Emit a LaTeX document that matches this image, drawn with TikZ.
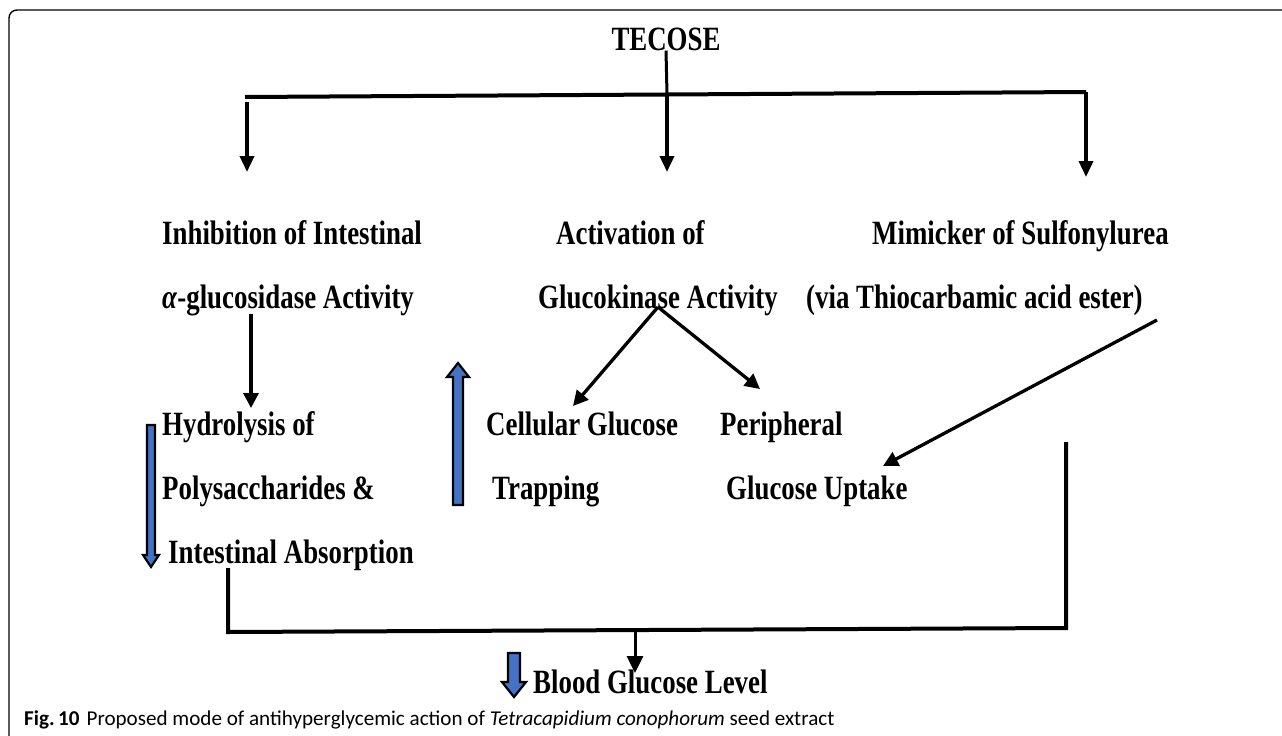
\documentclass[tikz,border=0pt]{standalone}
\usepackage{fontspec}
\setmainfont{Liberation Serif}[FakeStretch=0.79]
\newfontfamily\capfont{Carlito}
\usepackage{tikz}
\usetikzlibrary{positioning,arrows.meta}
\definecolor{arrblue}{RGB}{68,114,196}
\tikzset{
  lbl/.style={anchor=base west, inner sep=0pt, align=left, font=\fontsize{34}{64}\selectfont\bfseries},
  arr/.style={-{Triangle[length=16pt, width=14pt]}, line width=3.5pt},
  darr/.style={-{Triangle[length=15pt, width=15pt]}, line width=3.3pt},
  bar/.style={line width=4pt, line join=miter},
  blk/.style={draw=black, line width=2.2pt, fill=arrblue, line join=miter},
  frame/.style={line width=1.4pt, rounded corners=8pt},
}
\begin{document}
\begin{tikzpicture}[x=1pt, y=-1pt]
  \useasboundingbox (0,0) rectangle (1282,736);
  \draw[frame] (9,736) -- (9,10) -- (1282,10);

  % texts (base = last line)
  \node[lbl, anchor=base] (tec) at (666,50) {TECOSE};
  \node[lbl] (inh) at (162,308) {Inhibition of Intestinal\\ \textit{α}-glucosidase Activity};
  \node[lbl] (act) at (538,308) {\hspace{18pt}Activation of\\ Glucokinase Activity};
  \node[lbl] (mim) at (806,308) {\hspace{66pt}Mimicker of Sulfonylurea\\ (via Thiocarbamic acid ester)};
  \node[lbl] (hyd) at (162,563) {Hydrolysis of\\ Polysaccharides \&\\ \hspace{6pt}Intestinal Absorption};
  \node[lbl] (cel) at (486,499) {Cellular Glucose\\ \hspace{6pt}Trapping};
  \node[lbl] (per) at (720,499) {Peripheral\\ \hspace{6pt}Glucose Uptake};
  \node[lbl] (bgl) at (533,693) {Blood Glucose Level};
  \node[anchor=base west, inner sep=0pt, font=\capfont\fontsize{21.1}{22}\selectfont] (cap) at (24,725)
    {\textbf{Fig.\,10}\hspace{7pt}Proposed mode of antihyperglycemic action of \textit{Tetracapidium conophorum} seed extract};

  % junctions
  \coordinate (barL) at (247,97);
  \coordinate (barM) at (667,94.5);
  \coordinate (barR) at (1086,92);
  \coordinate (tipL) at (247,172);
  \coordinate (tipM) at (667,172);
  \coordinate (tipR) at (1086,177);
  \coordinate (inhout) at (251,314);
  \coordinate (hydin) at (251,408);
  \coordinate (gkout) at (658,307);
  \coordinate (celin) at (573,406);
  \coordinate (perin) at (760,389);
  \coordinate (mimout) at (1157,320);
  \coordinate (upin) at (883,466);
  \coordinate (botL) at (228,568);
  \coordinate (brL) at (228,632);
  \coordinate (brM) at (635,630);
  \coordinate (brR) at (1066,628);
  \coordinate (topR) at (1066,442);
  \coordinate (bglin) at (635,673);

  % connectors
  \draw[line width=3pt] (tec.south) -- (barM);
  \draw[bar] ([xshift=-2pt]barL) -- (barR);
  \draw[arr] ([yshift=-5pt]barL) -- (tipL);
  \draw[arr] (barM) -- (tipM);
  \draw[arr] (barR) -- (tipR);
  \draw[darr] (inhout) -- (hydin);
  \draw[darr] (gkout) -- (celin);
  \draw[darr] (gkout) -- (perin);
  \draw[darr] (mimout) -- (upin);
  \draw[bar] (botL) -- (brL) -- (brR) -- (topR);
  \draw[-{Triangle[length=17pt, width=16pt]}, line width=3pt] (brM) -- (bglin);

  % blue block arrows
  \draw[blk] (147,425) -- (155,425) -- (155,555) -- (159,555) -- (151,567) -- (143,555) -- (147,555) -- cycle;
  \draw[blk] (453,505) -- (463,505) -- (463,377) -- (469,377) -- (458,363) -- (447,377) -- (453,377) -- cycle;
  \draw[blk] (508,653) -- (520,653) -- (520,682) -- (526,682) -- (514,697) -- (502,682) -- (508,682) -- cycle;
\end{tikzpicture}
\end{document}
